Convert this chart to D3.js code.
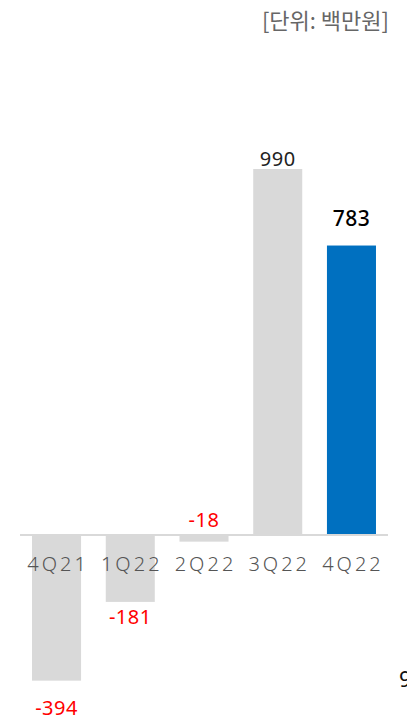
<!DOCTYPE html>
<html><head><meta charset="utf-8">
<script src="https://cdn.jsdelivr.net/npm/d3@7"></script>
<style>
html,body{margin:0;padding:0;background:#fff;overflow:hidden;}
svg{display:block;font-family:"Noto Sans","Noto Sans CJK KR",sans-serif;}
</style></head>
<body>
<svg id="c" width="407" height="717"></svg>
<script>
const categories = ["4Q21","1Q22","2Q22","3Q22","4Q22"];
const values = [-394,-181,-18,990,783];
const unitLabel = "[단위: 백만원]";

const svg = d3.select("#c");
const x = d3.scaleBand().domain(categories).range([20,388]).paddingInner(0.335).paddingOuter(0.163);
const y = d3.scaleLinear().domain([0,990]).range([535,169]);
const last = categories.length-1;

const colorFor = (d,i)=> i===last ? "#0070C0" : "#D9D9D9";

svg.append("g").selectAll("rect").data(values).join("rect")
  .attr("x",(d,i)=>x(categories[i]))
  .attr("width",x.bandwidth())
  .attr("y",d=>Math.min(y(d),y(0)))
  .attr("height",d=>Math.abs(y(d)-y(0)))
  .attr("fill",colorFor);

svg.append("line").attr("x1",20).attr("x2",388).attr("y1",y(0)).attr("y2",y(0))
  .attr("stroke","#D9D9D9").attr("stroke-width",2);

// axis labels
svg.append("g").selectAll("text").data(categories).join("text")
  .attr("x",d=>x(d)+x.bandwidth()/2+1.5)
  .attr("y",571)
  .attr("text-anchor","middle")
  .attr("font-size",20)
  .attr("font-weight",300)
  .attr("letter-spacing","3px")
  .attr("fill","#555")
  .text(d=>d);

// value labels
function labelY(d,i){
  if (d>=0) return i===last ? y(d)-20 : y(d)-3;
  if (Math.abs(y(d)-y(0))<20) return y(0)-8;
  return i===0 ? y(d)+34 : y(d)+22;
}
svg.append("g").selectAll("text").data(values).join("text")
  .attr("x",(d,i)=>x(categories[i])+x.bandwidth()/2)
  .attr("y",labelY)
  .attr("text-anchor","middle")
  .attr("font-size",(d,i)=> i===last ? 21 : 20)
  .attr("font-weight",(d,i)=> i===last ? 500 : 400)
  .attr("letter-spacing","0.5px")
  .attr("fill",(d,i)=> d<0 ? "#FF0000" : (i===last ? "#000" : "#222"))
  .text(d=>d);

svg.append("text").attr("x",389).attr("y",29).attr("text-anchor","end")
  .attr("font-family","Noto Sans CJK KR")
  .attr("font-size",22).attr("fill","#666").text(unitLabel);

svg.append("text").attr("x",399).attr("y",687).attr("font-size",22).attr("fill","#111").text("9");
</script>
</body></html>
